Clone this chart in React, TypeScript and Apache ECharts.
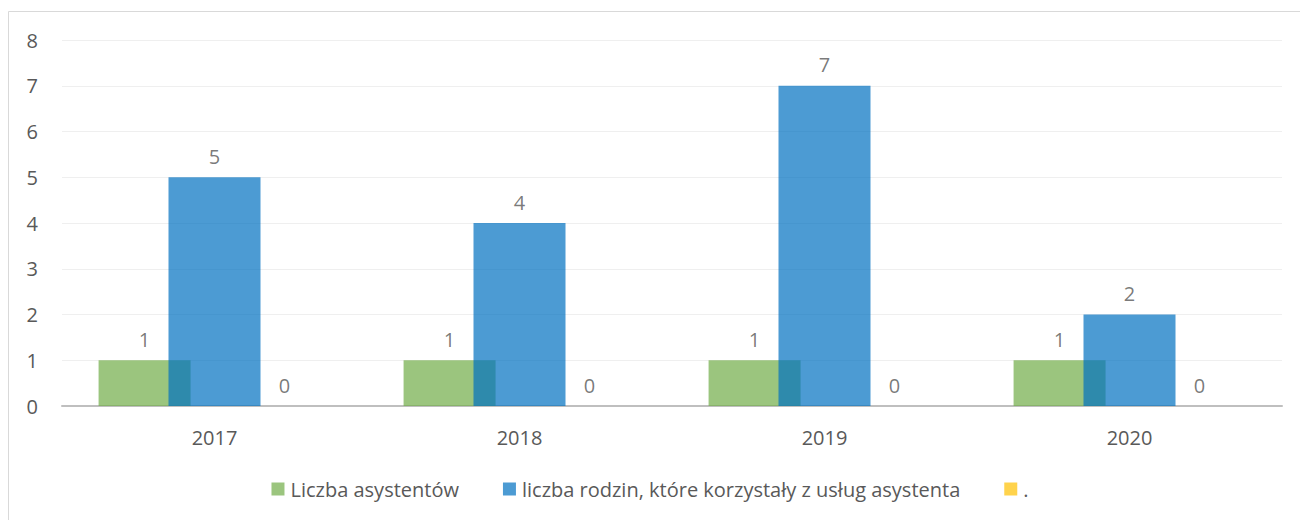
import React, { useEffect, useRef } from "react";
import * as echarts from "echarts";

const categories = ["2017", "2018", "2019", "2020"];
const seriesNames = ["Liczba asystentów", "liczba rodzin, które korzystały z usług asystenta", "."];
const asystenci = [1, 1, 1, 1];
const rodziny = [5, 4, 7, 2];
const kropka = [0, 0, 0, 0];
const yTicks = { min: 0, max: 8, interval: 1 };

const FONT = "'Open Sans', 'Noto Sans', sans-serif";

export default function App() {
  const ref = useRef<HTMLDivElement>(null);
  useEffect(() => {
    if (!ref.current) return;
    const chart = echarts.init(ref.current, undefined, { renderer: "svg" });
    const label = {
      show: true,
      position: "top" as const,
      distance: 11,
      color: "#404040",
      fontSize: 20,
      fontFamily: FONT,
    };
    const mk = (name: string, data: number[], color: string) => ({
      name,
      type: "bar",
      data,
      barWidth: 92,
      barGap: "-24%",
      itemStyle: { color, opacity: 0.7 },
      label,
    });
    chart.setOption({
      animation: false,
      textStyle: { fontFamily: FONT },
      graphic: [
        {
          type: "rect",
          shape: { x: 8.5, y: 11.5, width: 1400, height: 600 },
          style: { fill: "none", stroke: "#D9D9D9", lineWidth: 1 },
          silent: true,
        },
      ],
      grid: { left: 62, right: 18, top: 40, bottom: 114 },
      legend: {
        bottom: 16,
        left: "center",
        itemWidth: 13,
        itemHeight: 13,
        itemGap: 44,
        icon: "rect",
        textStyle: { color: "#595959", fontSize: 20, fontFamily: FONT, padding: [0, 0, 0, 1] },
        data: seriesNames,
      },
      xAxis: {
        type: "category",
        data: categories,
        axisTick: { show: false },
        axisLine: { lineStyle: { color: "#BFBFBF", width: 2 } },
        axisLabel: { color: "#595959", fontSize: 20, fontFamily: FONT, margin: 21 },
      },
      yAxis: {
        type: "value",
        min: yTicks.min,
        max: yTicks.max,
        interval: yTicks.interval,
        axisLine: { show: false },
        axisTick: { show: false },
        splitLine: { lineStyle: { color: "#EFEFEF", width: 1 } },
        axisLabel: { color: "#595959", fontSize: 20, fontFamily: FONT, margin: 24 },
      },
      series: [
        mk(seriesNames[0], asystenci, "rgb(112,173,71)"),
        mk(seriesNames[1], rodziny, "rgb(0,112,192)"),
        mk(seriesNames[2], kropka, "rgb(255,192,0)"),
      ],
    });
    return () => chart.dispose();
  }, []);
  return (
    <div
      ref={ref}
      style={{ position: "fixed", left: 0, top: 0, width: 1300, height: 520, background: "#fff" }}
    />
  );
}
